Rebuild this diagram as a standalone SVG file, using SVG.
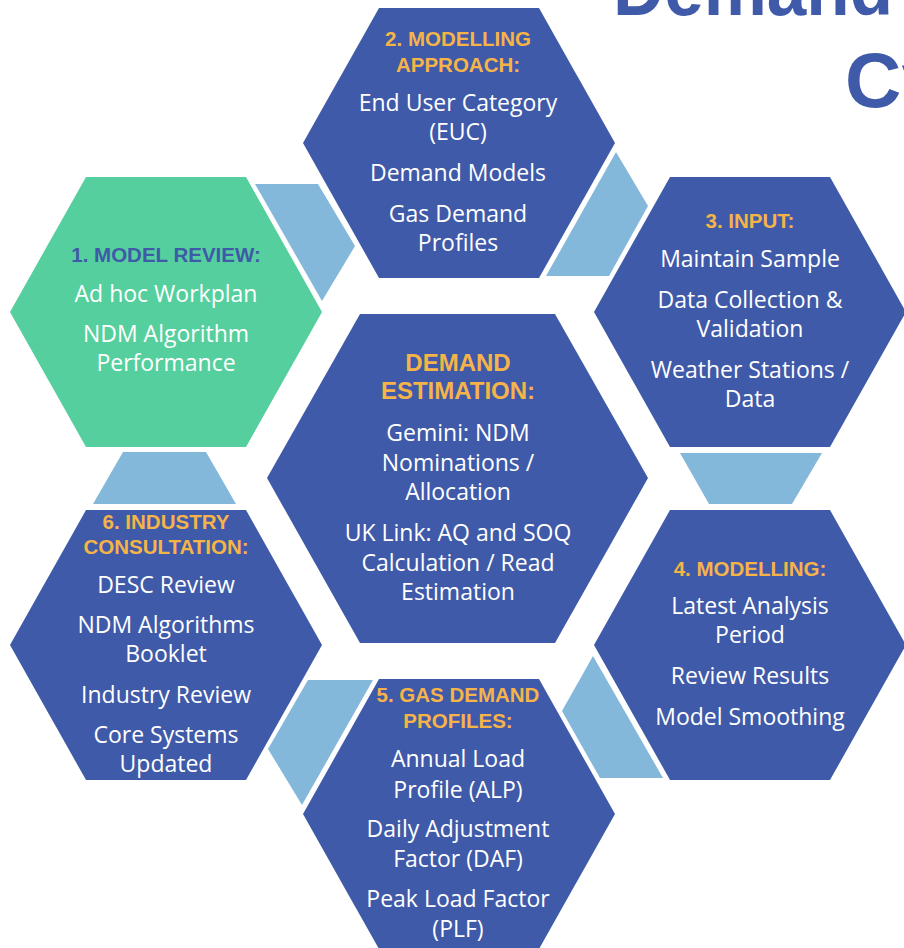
<svg xmlns="http://www.w3.org/2000/svg" xmlns:xlink="http://www.w3.org/1999/xlink" width="904" height="948" viewBox="0 0 904 948">
<style>
.hex{fill:#3f5aa8}
.green{fill:#55cf9d}
.conn{fill:#84b8da}
.hd{font-family:"Liberation Sans",Arial,sans-serif;font-weight:700;font-size:20.5px;fill:#f6b448;text-anchor:middle}
.hd1{fill:#3f5aa8}
.bd{font-family:"Open Sans","Liberation Sans",sans-serif;font-size:23px;fill:#ffffff;text-anchor:middle}
.ttl{font-family:"Liberation Sans",Arial,sans-serif;font-weight:700;font-size:78px;fill:#3f5aa8}
</style>
<defs>
<polygon id="hx" points="0,135 76,0 236,0 312,135 236,270 76,270"/>
</defs>
<rect width="904" height="948" fill="#ffffff"/>
<g id="title">
<text class="ttl" x="613" y="15" textLength="280" lengthAdjust="spacingAndGlyphs">Demand</text>
<text class="ttl" x="845" y="107">Cy</text>
</g>
<g id="connectors">
<polygon class="conn" points="255,184 318,184 355,246 322,301"/>
<polygon class="conn" points="616,152 648,206 609,276 546,276"/>
<polygon class="conn" points="680,453 822,453 792,504 709,504"/>
<polygon class="conn" points="593,656 663,778 600,778 562,711"/>
<polygon class="conn" points="308,680 373,680 302,805 268,749"/>
<polygon class="conn" points="123,452 206,452 236,504 93,504"/>
</g>
<g id="node1">
<use xlink:href="#hx" class="green" transform="translate(10,177)"/>
<text class="hd hd1" x="166" y="262">1. MODEL REVIEW:</text>
<text class="bd" x="166" y="302">Ad hoc Workplan</text>
<text class="bd" x="166" y="342">NDM Algorithm</text>
<text class="bd" x="166" y="371">Performance</text>
</g>
<g id="node2">
<use xlink:href="#hx" class="hex" transform="translate(303,8)"/>
<text class="hd" x="458" y="46">2. MODELLING</text>
<text class="hd" x="458" y="72">APPROACH:</text>
<text class="bd" x="458" y="111">End User Category</text>
<text class="bd" x="458" y="140">(EUC)</text>
<text class="bd" x="458" y="181">Demand Models</text>
<text class="bd" x="458" y="222">Gas Demand</text>
<text class="bd" x="458" y="251">Profiles</text>
</g>
<g id="node3">
<use xlink:href="#hx" class="hex" transform="translate(594,177)"/>
<text class="hd" x="750" y="228">3. INPUT:</text>
<text class="bd" x="750" y="267">Maintain Sample</text>
<text class="bd" x="750" y="308">Data Collection &amp;</text>
<text class="bd" x="750" y="337">Validation</text>
<text class="bd" x="750" y="378">Weather Stations /</text>
<text class="bd" x="750" y="407">Data</text>
</g>
<g id="node4">
<use xlink:href="#hx" class="hex" transform="translate(594,510)"/>
<text class="hd" x="750" y="576">4. MODELLING:</text>
<text class="bd" x="750" y="614">Latest Analysis</text>
<text class="bd" x="750" y="643">Period</text>
<text class="bd" x="750" y="684">Review Results</text>
<text class="bd" x="750" y="725">Model Smoothing</text>
</g>
<g id="node5">
<use xlink:href="#hx" class="hex" transform="translate(303,679)"/>
<text class="hd" x="458" y="702">5. GAS DEMAND</text>
<text class="hd" x="458" y="728">PROFILES:</text>
<text class="bd" x="458" y="767">Annual Load</text>
<text class="bd" x="458" y="798">Profile (ALP)</text>
<text class="bd" x="458" y="837">Daily Adjustment</text>
<text class="bd" x="458" y="867">Factor (DAF)</text>
<text class="bd" x="458" y="907">Peak Load Factor</text>
<text class="bd" x="458" y="937">(PLF)</text>
</g>
<g id="node6">
<use xlink:href="#hx" class="hex" transform="translate(10,510)"/>
<text class="hd" x="166" y="529">6. INDUSTRY</text>
<text class="hd" x="166" y="554">CONSULTATION:</text>
<text class="bd" x="166" y="593">DESC Review</text>
<text class="bd" x="166" y="633">NDM Algorithms</text>
<text class="bd" x="166" y="662">Booklet</text>
<text class="bd" x="166" y="703">Industry Review</text>
<text class="bd" x="166" y="743">Core Systems</text>
<text class="bd" x="166" y="772">Updated</text>
</g>
<g id="center">
<polygon class="hex" points="267,478 360,314 555,314 648,478 555,643 360,643"/>
<text class="hd" x="458" y="371" style="font-size:24px">DEMAND</text>
<text class="hd" x="458" y="399" style="font-size:24px">ESTIMATION:</text>
<text class="bd" x="458" y="441">Gemini: NDM</text>
<text class="bd" x="458" y="471">Nominations /</text>
<text class="bd" x="458" y="500">Allocation</text>
<text class="bd" x="458" y="541">UK Link: AQ and SOQ</text>
<text class="bd" x="458" y="571">Calculation / Read</text>
<text class="bd" x="458" y="600">Estimation</text>
</g>
</svg>
